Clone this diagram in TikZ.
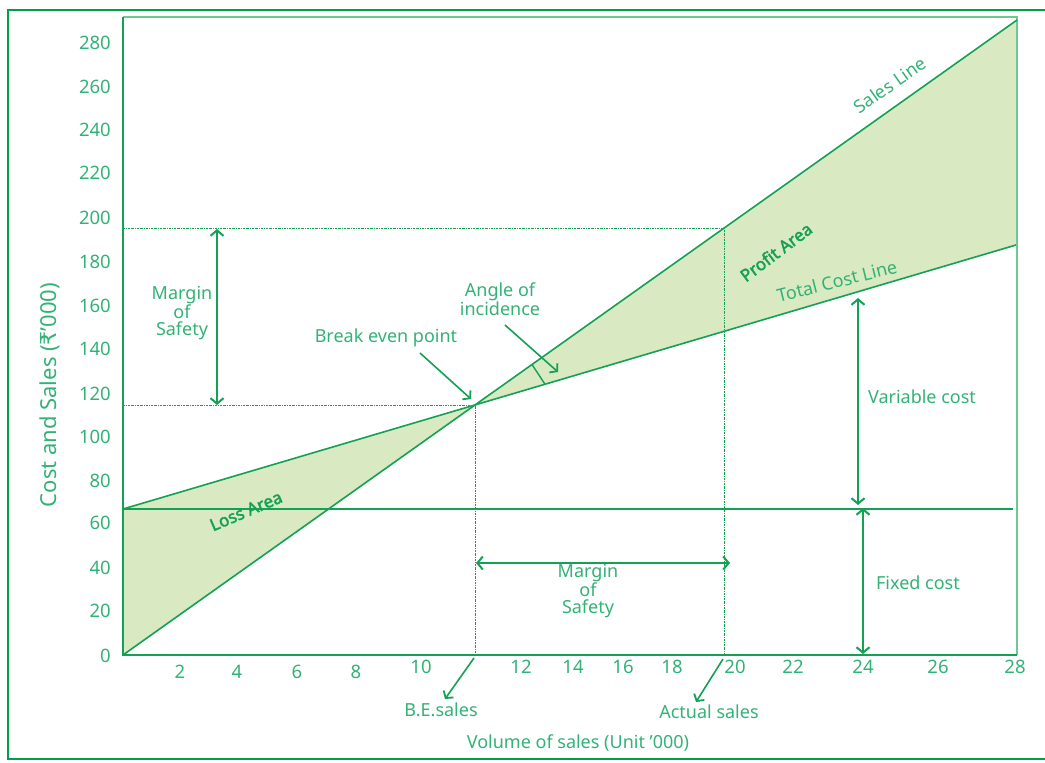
\documentclass[tikz,border=0pt]{standalone}
\usepackage{fontspec}
\setmainfont{Noto Sans}
\newfontfamily\rupeefont{DejaVu Sans}
\newfontfamily\boldlblfont[FakeBold=2.2]{Noto Sans}
\usetikzlibrary{arrows.meta}
\definecolor{lineg}{RGB}{20,160,85}
\definecolor{frameg}{RGB}{0,160,75}
\definecolor{lightg}{RGB}{110,200,145}
\definecolor{textg}{RGB}{50,178,118}
\definecolor{fillg}{RGB}{217,233,193}
\tikzset{
  barb/.tip={Straight Barb[length=5.5pt,width=13pt,line width=2pt]},
  dataline/.style={draw=lineg,line width=1.6pt},
  guide/.style={draw=lineg,line width=1pt,dash pattern=on 2pt off 1pt on 0.6pt off 1pt},
  dimarrow/.style={draw=lineg,line width=2pt,barb-barb},
  onearrow/.style={draw=lineg,line width=1.6pt,-{Straight Barb[length=5pt,width=12pt,line width=1.8pt]}},
  lbl/.style={text=textg,font=\fontsize{18}{18}\selectfont,inner sep=0pt,align=center},
  ticklbl/.style={text=textg,font=\fontsize{18.5}{19}\selectfont,inner sep=0pt},
  arealbl/.style={text=lineg,font=\boldlblfont\fontsize{17}{18}\selectfont,inner sep=0pt},
  linelbl/.style={text=textg,font=\fontsize{18}{19}\selectfont,inner sep=0pt}
}
\begin{document}
\begin{tikzpicture}[x=1pt,y=-1pt]
\useasboundingbox (0,0) rectangle (1045,763);
% key points
\coordinate (O) at (123,655);
\coordinate (F) at (123,509);
\coordinate (Fend) at (1013,509);
\coordinate (S) at (1017,20);
\coordinate (T) at (1016,245);
\coordinate (B) at (475,405);
\coordinate (A) at (724,228);
\coordinate (Ax) at (724,655);
\coordinate (Bx) at (475,655);
\coordinate (Ay) at (123,228);
\coordinate (By) at (123,405);
% areas
\fill[fillg] (O) -- (F) -- (B) -- cycle;
\fill[fillg] (B) -- (S) -- (T) -- cycle;
% outer frame
\draw[frameg,line width=2.5pt] (1045,10) -- (8,10) -- (8,759) -- (1045,759);
% inner frame
\draw[lightg,line width=2pt] (123,17) -- (1017,17) -- (1017,655);
\draw[lineg,line width=2pt] (123,17) -- (O) -- (1017,655);
% guides
\draw[guide] (Ay) -- (A) -- (Ax);
\draw[guide] (By) -- (B) -- (Bx);
% data lines
\draw[dataline] (F) -- (Fend);
\draw[dataline] (O) -- (S);
\draw[dataline] (F) -- (T);
% angle marker
\coordinate (ang1) at (532,364.5);
\coordinate (ang2) at (545,384.2);
\draw[lineg,line width=1.4pt] (ang1) -- (ang2);
% dimension arrows
\coordinate (mosT) at (217,229);
\coordinate (mosB) at (217,405);
\draw[dimarrow] (mosT) -- (mosB);
\coordinate (mosL) at (476,563);
\coordinate (mosR) at (730,563);
\draw[dimarrow] (mosL) -- (mosR);
\coordinate (vcT) at (858,298);
\coordinate (vcB) at (858,505);
\draw[dimarrow] (vcT) -- (vcB);
\coordinate (fcT) at (863,508);
\coordinate (fcB) at (863,654);
\draw[dimarrow] (fcT) -- (fcB);
% labels
\node[lbl,font=\fontsize{18}{17}\selectfont] (mos1) at (182,313) {Margin\\of\\Safety};
\node[lbl,font=\fontsize{18}{17}\selectfont] (mos2) at (588,591) {Margin\\of\\Safety};
\node[lbl] (bep) at (386,338) {Break even point};
\node[lbl,font=\fontsize{18}{19}\selectfont] (aoi) at (500,299) {Angle of\\incidence};
\node[lbl] (vc) at (922,397) {Variable cost};
\node[lbl] (fc) at (918,583) {Fixed cost};
\node[lbl] (bes) at (441,710) {B.E.sales};
\node[lbl] (acs) at (709,712) {Actual sales};
\node[lbl] (xlab) at (578,743) {Volume of sales (Unit ’000)};
\node[text=textg,font=\fontsize{22}{22}\selectfont,inner sep=0pt,rotate=90] (ylab) at (50,395) {Cost and Sales ({\rupeefont ₹}’000)};
\node[linelbl,rotate=35] (sl) at (890,85) {Sales Line};
\node[linelbl,rotate=14] (tcl) at (837,281) {Total Cost Line};
\node[arealbl,rotate=37] (pa) at (776,252) {Profit Area};
\node[arealbl,rotate=23] (la) at (246,511) {Loss Area};
% pointer arrows
\coordinate (bepS) at (420,353);
\coordinate (bepE) at (471,399);
\draw[onearrow] (bepS) -- (bepE);
\coordinate (aoiS) at (505,325);
\coordinate (aoiE) at (558,372);
\draw[onearrow] (aoiS) -- (aoiE);
\coordinate (besS) at (474,658);
\coordinate (besE) at (445,699);
\draw[onearrow] (besS) -- (besE);
\coordinate (acsS) at (723,659);
\coordinate (acsE) at (696,702);
\draw[onearrow] (acsS) -- (acsE);
% y ticks
\foreach \v/\yy in {280/43,260/87,240/130,220/173,200/218,180/262,160/306,140/349,120/394,100/437,80/481,60/523,40/568,20/611,0/656}
  \node[ticklbl,anchor=east] (y\v) at (111,\yy) {\v};
% x ticks
\foreach \v/\xx/\yy in {2/180/672,4/237/672,6/297/672,8/356/672,10/421/667,12/521/667,14/573/667,16/623/667,18/672/667,20/735/667,22/793/667,24/863/667,26/938/667,28/1015/667}
  \node[ticklbl] (x\v) at (\xx,\yy) {\v};
\end{tikzpicture}
\end{document}
